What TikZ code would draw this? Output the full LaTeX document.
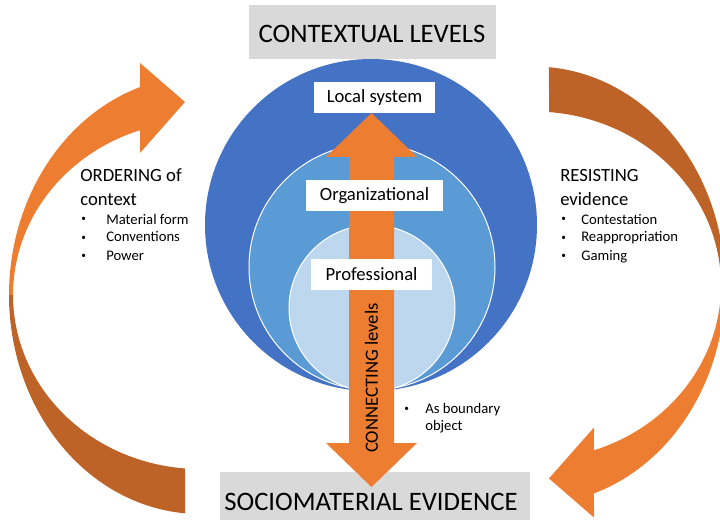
\documentclass[tikz,border=0pt]{standalone}
\usepackage{fontspec}
\setmainfont{Carlito}
\definecolor{dblue}{HTML}{4472C4}
\definecolor{mblue}{HTML}{5B9BD5}
\definecolor{lblue}{HTML}{BDD7EE}
\definecolor{orng}{HTML}{ED7D31}
\definecolor{dorng}{RGB}{190,99,40}
\definecolor{gbox}{HTML}{D9D9D9}
\tikzset{
  titletxt/.style={inner sep=0pt, anchor=base, font=\fontsize{20}{24}\selectfont},
  lvlbox/.style={fill=white, inner sep=0pt, minimum height=23.25pt, font=\fontsize{14}{16.8}\selectfont},
  headtxt/.style={inner sep=0pt, anchor=base west, font=\fontsize{14}{16.8}\selectfont},
  itemtxt/.style={inner sep=0pt, anchor=base west, font=\fontsize{11}{13.2}\selectfont},
  bultxt/.style={inner sep=0pt, anchor=base west, font=\fontsize{7}{8}\selectfont},
  ring/.style={circle, inner sep=0pt},
}
\newcommand{\curvedarrow}{%
  \fill[orng] plot[domain=180:251.7,samples=60,variable=\t] ({200+191*cos(\t)},{295+219*sin(\t)})
    -- (140,63) -- (185,102) -- (140,153)
    -- plot[domain=251.3:180,samples=60,variable=\t] ({200+187*cos(\t)},{295+174*sin(\t)}) -- cycle;
  \fill[dorng] plot[domain=180:94.5,samples=60,variable=\t] ({200+191*cos(\t)},{295+219*sin(\t)})
    -- plot[domain=94.6:180,samples=60,variable=\t] ({200+187*cos(\t)},{295+174*sin(\t)}) -- cycle;
}
\begin{document}
\begin{tikzpicture}[x=0.75pt,y=-0.75pt]
\useasboundingbox (0,0) rectangle (720,520);
\clip (0,0) rectangle (720,520);
% gray title boxes
\node[fill=gbox, inner sep=0pt, minimum width=185.25pt, minimum height=40.5pt] (topbox) at (372.5,32) {};
\node[fill=gbox, inner sep=0pt, minimum width=232.5pt, minimum height=44.25pt] (botbox) at (375,501.5) {};
\node[titletxt] (toptxt) at (372,43) {CONTEXTUAL LEVELS};
\node[titletxt] (bottxt) at (371,510) {SOCIOMATERIAL EVIDENCE};
% circles
\node[ring, fill=dblue, minimum size=249pt] (outer) at (371,225) {};
\node[ring, fill=mblue, draw=white, line width=0.75pt, minimum size=184.5pt] (middle) at (372,267) {};
\node[ring, fill=lblue, draw=white, line width=0.75pt, minimum size=124.5pt] (inner) at (372,308) {};
% vertical double arrow
\fill[orng] (371.5,113) -- (417,157) -- (394,157) -- (394,443) -- (417,443) -- (371.5,487)
  -- (326,443) -- (349,443) -- (349,157) -- (326,157) -- cycle;
\node[rotate=90, inner sep=0pt, font=\fontsize{14}{16.8}\selectfont] (conn) at (371.5,378) {CONNECTING levels};
% level labels
\node[lvlbox, minimum width=90.75pt] (local) at (374.5,97.5) {Local system};
\node[lvlbox, minimum width=102.75pt] (org) at (374.5,195.5) {Organizational};
\node[lvlbox, minimum width=90.75pt] (prof) at (371.5,274.5) {Professional};
% curved arrows
\curvedarrow
\begin{scope}[rotate around={180:(367,290.25)}]
\curvedarrow
\end{scope}
% left text
\node[headtxt] (ord1) at (80,182) {ORDERING of};
\node[headtxt] (ord2) at (80,205) {context};
\node[bultxt] (lb1) at (81,222) {•};
\node[itemtxt] (lt1) at (106,224) {Material form};
\node[bultxt] (lb2) at (81,240) {•};
\node[itemtxt] (lt2) at (106,242) {Conventions};
\node[bultxt] (lb3) at (81,258) {•};
\node[itemtxt] (lt3) at (106,260) {Power};
% right text
\node[headtxt] (res1) at (560,182) {RESISTING};
\node[headtxt] (res2) at (560,205) {evidence};
\node[bultxt] (rb1) at (561,222) {•};
\node[itemtxt] (rt1) at (581,224) {Contestation};
\node[bultxt] (rb2) at (561,240) {•};
\node[itemtxt] (rt2) at (581,242) {Reappropriation};
\node[bultxt] (rb3) at (561,258) {•};
\node[itemtxt] (rt3) at (581,260) {Gaming};
% boundary object
\node[bultxt] (bb1) at (404,411) {•};
\node[itemtxt] (bt1) at (425,413) {As boundary};
\node[itemtxt] (bt2) at (425,430) {object};
\end{tikzpicture}
\end{document}
